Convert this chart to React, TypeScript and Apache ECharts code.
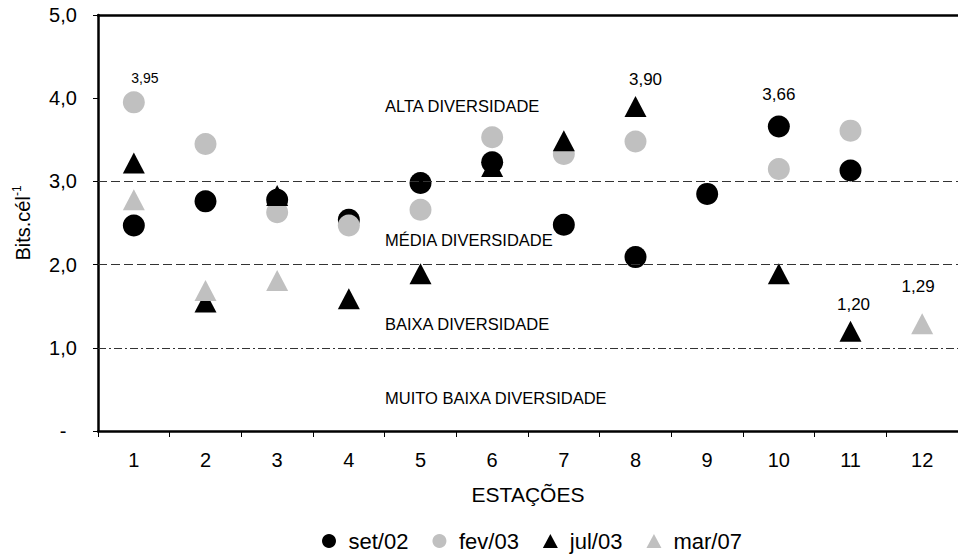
import React, { useEffect, useRef } from "react";
import * as echarts from "echarts";

const stations = ["1", "2", "3", "4", "5", "6", "7", "8", "9", "10", "11", "12"];
const seriesNames = ["set/02", "fev/03", "jul/03", "mar/07"];
const set02 = [2.47, 2.76, 2.78, 2.54, 2.98, 3.23, 2.48, 2.09, 2.85, 3.66, 3.13, null];
const fev03 = [3.95, 3.45, 2.63, 2.47, 2.66, 3.53, 3.33, 3.48, null, 3.15, 3.61, null];
const jul03 = [3.22, 1.55, 2.83, 1.59, 1.89, 3.18, 3.49, 3.9, null, 1.89, 1.2, null];
const mar07 = [2.78, 1.69, 1.81, null, null, null, null, null, null, null, null, 1.29];
const seriesValues = [set02, fev03, jul03, mar07];
const seriesColors = ["#000000", "#c0c0c0", "#000000", "#c0c0c0"];
const seriesSymbols = ["circle", "circle", "triangle", "triangle"];
const thresholds = [3, 2, 1];
const zoneLabels = ["ALTA DIVERSIDADE", "MÉDIA DIVERSIDADE", "BAIXA DIVERSIDADE", "MUITO BAIXA DIVERSIDADE"];
// annotated points: [seriesIndex, stationIndex]
const labelledPoints = [
  [1, 0],
  [2, 7],
  [0, 9],
  [2, 10],
  [3, 11],
];

const FONT = "'Liberation Sans', Arial, Helvetica, sans-serif";

const fmt = (v: number, d: number) => v.toFixed(d).replace(".", ",");

export default function App() {
  const ref = useRef<HTMLDivElement>(null);
  useEffect(() => {
    if (!ref.current) return;
    const chart = echarts.init(ref.current, null, { renderer: "svg" });

    const labelStyles: Record<string, any> = {
      "1-0": { fontSize: 14, offset: [11, -24] },
      "2-7": { fontSize: 17, offset: [10, -27] },
      "0-9": { fontSize: 17, offset: [0, -32] },
      "2-10": { fontSize: 17, offset: [3, -27] },
      "3-11": { fontSize: 17, offset: [-4, -37] },
    };
    const labelled = new Set(labelledPoints.map((p) => p[0] + "-" + p[1]));

    const series: any[] = seriesNames.map((name, si) => {
      const data: any[] = [];
      seriesValues[si].forEach((v, i) => {
        if (v === null) return;
        const key = si + "-" + i;
        if (labelled.has(key)) {
          const st = labelStyles[key];
          data.push({
            value: [stations[i], v],
            label: {
              show: true,
              position: "inside",
              offset: st.offset,
              fontSize: st.fontSize,
              fontFamily: FONT,
              color: "#000",
              formatter: () => fmt(v, 2),
            },
          });
        } else {
          data.push({ value: [stations[i], v] });
        }
      });
      return {
        name,
        type: "scatter",
        symbol: seriesSymbols[si],
        symbolSize: seriesSymbols[si] === "circle" ? 22 : [22, 21],
        itemStyle: { color: seriesColors[si], opacity: 1 },
        data,
        z: 2 + si,
      };
    });

    series[0].markLine = {
      silent: true,
      symbol: ["none", "none"],
      label: { show: false },
      animation: false,
      data: thresholds.map((t) => ({
        yAxis: t,
        lineStyle: {
          color: "#333",
          width: 1,
          type: t === 1 ? [8, 3, 2, 3] : [9, 4],
        },
      })),
    };

    const zoneY = [106, 240, 324, 398];

    chart.setOption({
      animation: false,
      backgroundColor: "#fff",
      textStyle: { fontFamily: FONT },
      grid: { left: 98, top: 15, bottom: 124, right: -4, containLabel: false },
      legend: {
        data: seriesNames.map((n, i) => ({ name: n, icon: seriesSymbols[i] })),
        left: 322,
        top: 530,
        padding: 0,
        itemWidth: 15,
        itemHeight: 14,
        itemGap: 24,
        textStyle: { fontSize: 22, fontFamily: FONT, color: "#000", padding: [0, 0, 0, 7] },
      },
      xAxis: [
        {
          type: "category",
          data: stations,
          boundaryGap: true,
          name: "ESTAÇÕES",
          nameLocation: "middle",
          nameGap: 53,
          nameTextStyle: { fontSize: 21, fontFamily: FONT, color: "#000" },
          axisLine: { show: true, lineStyle: { color: "#000", width: 2.5 } },
          axisTick: { show: true, length: 6, lineStyle: { color: "#000", width: 1 } },
          axisLabel: { fontSize: 20, fontFamily: FONT, color: "#000", margin: 19 },
          splitLine: { show: false },
        },
        {
          type: "category",
          data: stations,
          position: "top",
          axisLine: { show: true, lineStyle: { color: "#000", width: 2.5 } },
          axisTick: { show: false },
          axisLabel: { show: false },
          splitLine: { show: false },
        },
      ],
      yAxis: {
        type: "value",
        min: 0,
        max: 5,
        interval: 1,
        name: "{a|Bits.cél}{b|-1}",
        nameLocation: "middle",
        nameGap: 63,
        nameTextStyle: {
          color: "#000",
          rich: {
            a: { fontSize: 20, fontFamily: FONT, color: "#000", lineHeight: 24 },
            b: { fontSize: 12, fontFamily: FONT, color: "#000", verticalAlign: "top", lineHeight: 12 },
          },
        },
        axisLine: { show: true, lineStyle: { color: "#000", width: 2.5 } },
        axisTick: { show: true, length: 5, lineStyle: { color: "#000", width: 1 } },
        axisLabel: {
          fontSize: 20,
          fontFamily: FONT,
          color: "#000",
          align: "center",
          margin: 35,
          formatter: (v: number) => (v === 0 ? "-" : fmt(v, 1)),
        },
        splitLine: { show: false },
      },
      graphic: zoneLabels.map((t, i) => ({
        type: "text",
        x: 385,
        y: zoneY[i],
        silent: true,
        style: {
          text: t,
          fontSize: 16.5,
          fontFamily: FONT,
          fill: "#000",
          textAlign: "left",
          textVerticalAlign: "middle",
        },
      })),
      series,
    });

    return () => chart.dispose();
  }, []);

  return (
    <div
      ref={ref}
      style={{ position: "fixed", left: 0, top: 0, width: 958, height: 555, background: "#fff" }}
    />
  );
}
